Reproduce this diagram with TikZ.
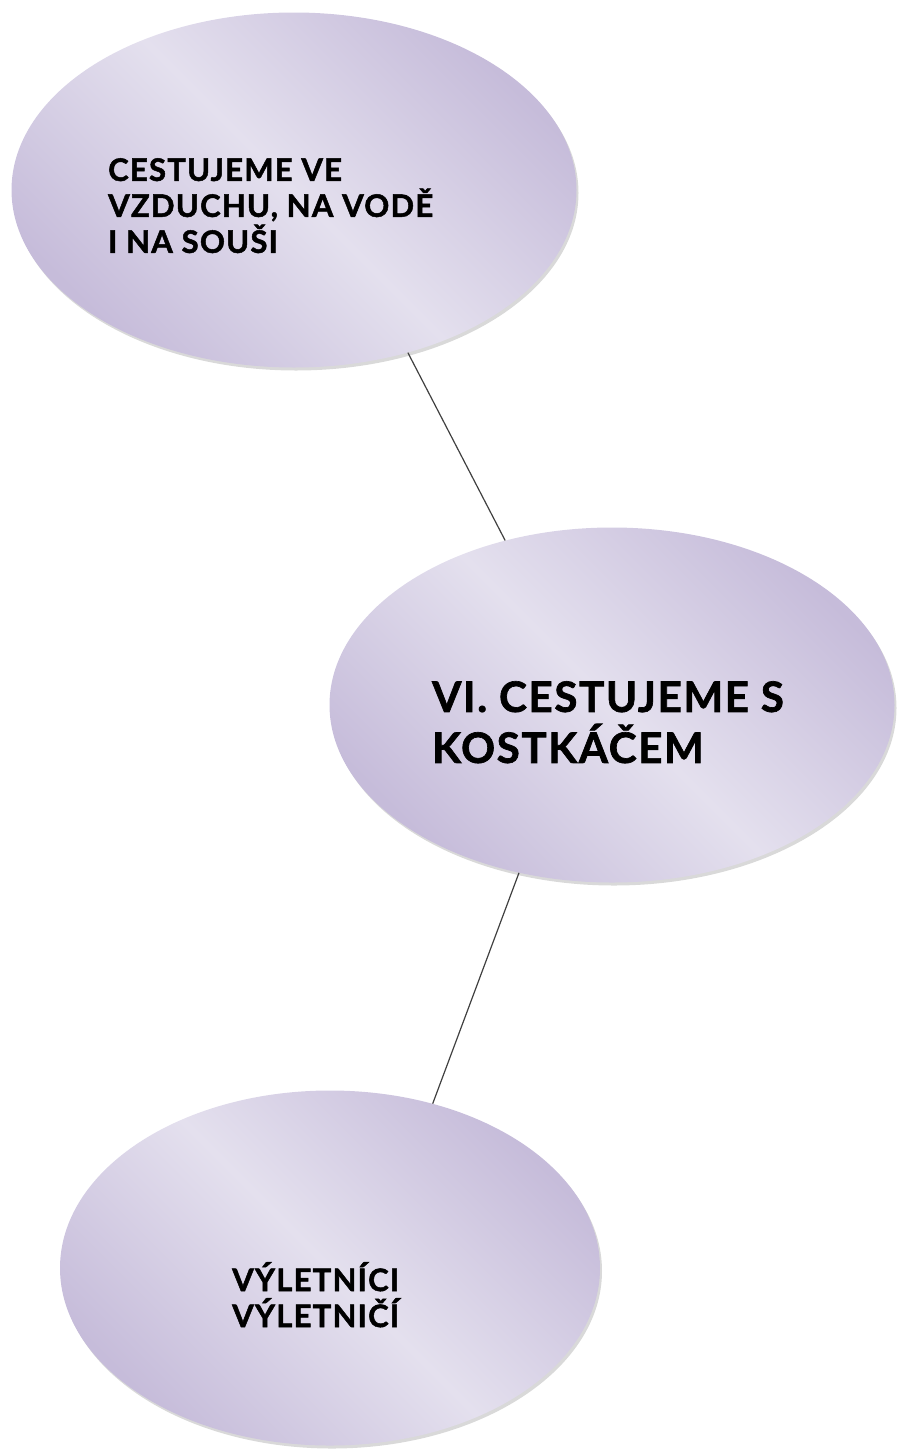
\documentclass[tikz,border=0pt]{standalone}
\usepackage{fontspec}
\setmainfont{Lato}[BoldFeatures={FakeBold=1.6,LetterSpace=4}]
\usetikzlibrary{shapes.geometric,shadows,positioning}
\definecolor{plight}{RGB}{228,224,238}
\definecolor{pdark}{RGB}{198,188,218}
\tikzset{
  bub/.style={ellipse, minimum width=565pt, minimum height=355pt, inner sep=0pt,
    draw=none, top color=pdark, bottom color=pdark, middle color=plight, shading angle=-45,
    drop shadow={opacity=0.3, shadow xshift=2pt, shadow yshift=-3pt}},
  txt/.style={anchor=north west, align=left, inner sep=0pt, font=\bfseries\fontsize{31}{36}\selectfont},
  big/.style={txt, font=\bfseries\fontsize{42}{51}\selectfont},
  conn/.style={draw=black!75, line width=1.2pt}
}
\begin{document}
\begin{tikzpicture}[x=1pt,y=-1pt]
	\useasboundingbox (0,0) rectangle (897,1451);
	\node[bub] (air) at (294,190) {};
	\node[bub] (kost) at (612,705) {};
	\node[bub, minimum width=540pt] (vyl) at (330,1268) {};
	%
	\node[txt] (airtxt) at (108,158) {CESTUJEME VE\\VZDUCHU, NA VODĚ\\I NA SOUŠI};
	\node[big] (kosttxt) at (432,681) {VI. CESTUJEME S\\KOSTKÁČEM};
	\node[txt] (vyltxt) at (232,1262) {VÝLETNÍCI\\VÝLETNIČÍ};
	%
	\draw[conn] (air.-55) -- (kost.123);
	\draw[conn] (kost.-119) -- (vyl.58);
\end{tikzpicture}
\end{document}
